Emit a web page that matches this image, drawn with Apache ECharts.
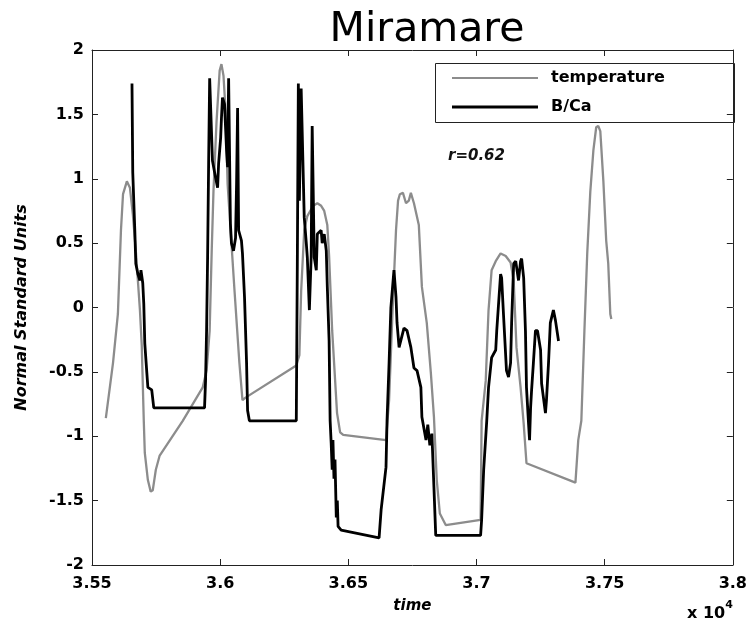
<!DOCTYPE html>
<html>
<head>
<meta charset="utf-8">
<script src="https://cdn.jsdelivr.net/npm/echarts@6/dist/echarts.min.js"></script>
<style>
  html, body { margin: 0; padding: 0; background: #fff; }
  #chart { width: 750px; height: 623px; }
</style>
</head>
<body>
<div id="chart"></div>
<script>
// Time axis (years, shown in units of 10^4)
const xTicks = [35500, 36000, 36500, 37000, 37500, 38000];
const yTicks = [-2, -1.5, -1, -0.5, 0, 0.5, 1, 1.5, 2];

// Temperature record, normalised
const tempTime = [35554, 35582, 35601, 35613, 35621, 35636, 35648, 35659, 35671, 35687,
  35694, 35702, 35706, 35718, 35729, 35737, 35749, 35764, 35854, 35932,
  35947, 35959, 35967, 35974, 35986, 35998, 36005, 36013, 36021, 36029,
  36044, 36056, 36075, 36087, 36099, 36297, 36309, 36316, 36328, 36340,
  36363, 36379, 36394, 36406, 36418, 36425, 36437, 36456, 36468, 36480,
  36647, 36659, 36674, 36686, 36694, 36701, 36713, 36725, 36736, 36744,
  36756, 36775, 36787, 36806, 36822, 36834, 36845, 36857, 36880, 37016,
  37020, 37036, 37047, 37059, 37075, 37094, 37114, 37133, 37145, 37156,
  37172, 37184, 37195, 37386, 37397, 37409, 37421, 37432, 37444, 37456,
  37467, 37475, 37483, 37495, 37506, 37514, 37522, 37526];
const tempValue = [-0.86, -0.43, -0.05, 0.60, 0.88, 0.98, 0.93, 0.73, 0.44, -0.02,
  -0.29, -0.88, -1.13, -1.34, -1.43, -1.42, -1.26, -1.15, -0.88, -0.62,
  -0.49, -0.18, 0.44, 0.91, 1.45, 1.84, 1.89, 1.80, 1.53, 0.96,
  0.50, 0.13, -0.43, -0.72, -0.70, -0.45, -0.37, 0.13, 0.60, 0.71,
  0.79, 0.81, 0.79, 0.75, 0.64, 0.40, -0.18, -0.82, -0.97, -0.99,
  -1.03, -0.72, 0.05, 0.60, 0.83, 0.88, 0.89, 0.81, 0.83, 0.89,
  0.81, 0.64, 0.16, -0.12, -0.51, -0.85, -1.34, -1.60, -1.69, -1.65,
  -0.88, -0.57, -0.02, 0.29, 0.36, 0.42, 0.40, 0.35, 0.21, -0.31,
  -0.62, -0.90, -1.21, -1.36, -1.03, -0.88, -0.18, 0.42, 0.90, 1.22,
  1.40, 1.41, 1.37, 0.98, 0.52, 0.34, -0.05, -0.09];

// B/Ca record, normalised
const bcaTime = [35656, 35659, 35667, 35671, 35679, 35687, 35691, 35698, 35702, 35706,
  35714, 35718, 35733, 35741, 35939, 35943, 35947, 35951, 35955, 35959,
  35970, 35982, 35990, 35994, 36002, 36005, 36009, 36017, 36025, 36029,
  36033, 36040, 36044, 36052, 36060, 36064, 36068, 36072, 36083, 36087,
  36095, 36103, 36107, 36114, 36297, 36301, 36305, 36309, 36316, 36328,
  36336, 36340, 36348, 36355, 36359, 36367, 36375, 36379, 36394, 36398,
  36406, 36414, 36418, 36425, 36429, 36433, 36437, 36440, 36444, 36448,
  36453, 36457, 36460, 36472, 36620, 36628, 36647, 36651, 36659, 36666,
  36678, 36686, 36690, 36698, 36717, 36729, 36744, 36756, 36768, 36783,
  36787, 36803, 36810, 36818, 36826, 36834, 36841, 37016, 37020, 37028,
  37040, 37047, 37059, 37075, 37079, 37094, 37098, 37106, 37117, 37125,
  37133, 37137, 37145, 37153, 37164, 37172, 37176, 37184, 37191, 37195,
  37203, 37207, 37211, 37215, 37222, 37230, 37238, 37250, 37254, 37269,
  37273, 37281, 37288, 37300, 37308, 37320];
const bcaValue = [1.74, 1.05, 0.60, 0.34, 0.26, 0.21, 0.29, 0.19, 0.03, -0.28,
  -0.51, -0.62, -0.64, -0.78, -0.78, -0.57, -0.18, 0.39, 1.12, 1.78,
  1.14, 1.01, 0.93, 1.12, 1.32, 1.47, 1.63, 1.58, 1.22, 1.09,
  1.78, 0.65, 0.50, 0.44, 0.54, 0.96, 1.55, 0.60, 0.52, 0.42,
  0.08, -0.43, -0.80, -0.88, -0.88, 0.34, 1.74, 0.83, 1.70, 0.70,
  0.50, 0.39, -0.02, 0.39, 1.41, 0.39, 0.29, 0.57, 0.60, 0.50,
  0.57, 0.44, 0.16, -0.26, -0.88, -1.05, -1.26, -1.03, -1.33, -1.18,
  -1.63, -1.50, -1.70, -1.73, -1.79, -1.57, -1.24, -0.88, -0.43, 0.00,
  0.29, 0.08, -0.12, -0.31, -0.16, -0.18, -0.31, -0.47, -0.49, -0.62,
  -0.85, -1.03, -0.91, -1.07, -0.98, -1.40, -1.77, -1.77, -1.65, -1.26,
  -0.88, -0.62, -0.39, -0.33, -0.18, 0.26, 0.23, -0.08, -0.49, -0.54,
  -0.43, -0.12, 0.34, 0.36, 0.21, 0.36, 0.38, 0.23, -0.18, -0.62,
  -0.90, -1.03, -0.78, -0.64, -0.43, -0.18, -0.18, -0.33, -0.59, -0.82,
  -0.72, -0.43, -0.12, -0.02, -0.10, -0.26];

const zip = (xs, ys) => xs.map((x, i) => [x, ys[i]]);

const FONT = '"DejaVu Sans", Verdana, sans-serif';
const labelStyle = { color: '#000', fontFamily: FONT, fontWeight: 'bold', fontSize: 16 };
const frameLine = { show: true, onZero: false, lineStyle: { color: '#222', width: 1 } };
const innerTick = { show: true, inside: true, length: 6, lineStyle: { color: '#222', width: 1 } };
const GRAY = '#8c8c8c';

const chart = echarts.init(document.getElementById('chart'), null, { renderer: 'canvas' });

chart.setOption({
  animation: false,
  backgroundColor: '#fff',
  grid: { left: 92, right: 15, top: 50, bottom: 58, containLabel: false },
  title: {
    text: 'Miramare',
    left: 422, top: 5, textAlign: 'center',
    textStyle: { fontFamily: FONT, fontWeight: 'normal', fontSize: 41, color: '#000' }
  },
  legend: {
    data: [
      { name: 'temperature', icon: 'path://M0,0h86v2h-86z' },
      { name: 'B/Ca', icon: 'path://M0,0h86v3h-86z' }
    ],
    orient: 'vertical',
    left: 452, top: 70,
    itemWidth: 86, itemHeight: 16, itemGap: 13, padding: 0,
    textStyle: Object.assign({}, labelStyle, { padding: [0, 0, 0, 8] })
  },
  xAxis: [{
    type: 'value', min: xTicks[0], max: xTicks[xTicks.length - 1], interval: 500,
    position: 'bottom',
    axisLine: frameLine, axisTick: innerTick, splitLine: { show: false },
    axisLabel: Object.assign({ margin: 11, formatter: v => String(+(v / 10000).toFixed(2)) }, labelStyle),
    name: 'time', nameLocation: 'middle', nameGap: 34,
    nameTextStyle: { fontFamily: FONT, fontWeight: 'bold', fontStyle: 'italic', fontSize: 15, color: '#000' }
  }, {
    type: 'value', min: xTicks[0], max: xTicks[xTicks.length - 1], interval: 500,
    position: 'top',
    axisLine: frameLine, axisTick: innerTick, splitLine: { show: false },
    axisLabel: { show: false }
  }],
  yAxis: [{
    type: 'value', min: yTicks[0], max: yTicks[yTicks.length - 1], interval: 0.5,
    position: 'left',
    axisLine: frameLine, axisTick: innerTick, splitLine: { show: false },
    axisLabel: Object.assign({ margin: 8 }, labelStyle),
    name: 'Normal Standard Units', nameLocation: 'middle', nameGap: 62,
    nameTextStyle: { fontFamily: FONT, fontWeight: 'bold', fontStyle: 'italic', fontSize: 16, color: '#000' }
  }, {
    type: 'value', min: yTicks[0], max: yTicks[yTicks.length - 1], interval: 0.5,
    position: 'right',
    axisLine: frameLine, axisTick: innerTick, splitLine: { show: false },
    axisLabel: { show: false }
  }],
  series: [{
    name: 'temperature', type: 'line', data: zip(tempTime, tempValue),
    showSymbol: false, symbol: 'none',
    lineStyle: { color: GRAY, width: 2.3 }, itemStyle: { color: GRAY },
    z: 2
  }, {
    name: 'B/Ca', type: 'line', data: zip(bcaTime, bcaValue),
    showSymbol: false, symbol: 'none',
    lineStyle: { color: '#000', width: 2.8 }, itemStyle: { color: '#000' },
    z: 3
  }],
  graphic: [{
    type: 'rect', left: 435, top: 63, z: 100,
    shape: { width: 299, height: 59 },
    style: { fill: 'rgba(0,0,0,0)', stroke: '#222', lineWidth: 1 }
  }, {
    type: 'text', left: 448, top: 149, z: 100,
    style: { text: 'r=0.62', fill: '#111', font: 'italic bold 15px ' + FONT }
  }, {
    type: 'text', left: 687, top: 600, z: 100,
    style: {
      text: '{b|x 10}{s|4}',
      rich: {
        b: { fontFamily: FONT, fontWeight: 'bold', fontSize: 16, fill: '#000', padding: [6, 0, 0, 0] },
        s: { fontFamily: FONT, fontWeight: 'bold', fontSize: 11, fill: '#000', verticalAlign: 'top' }
      }
    }
  }]
});
</script>
</body>
</html>
